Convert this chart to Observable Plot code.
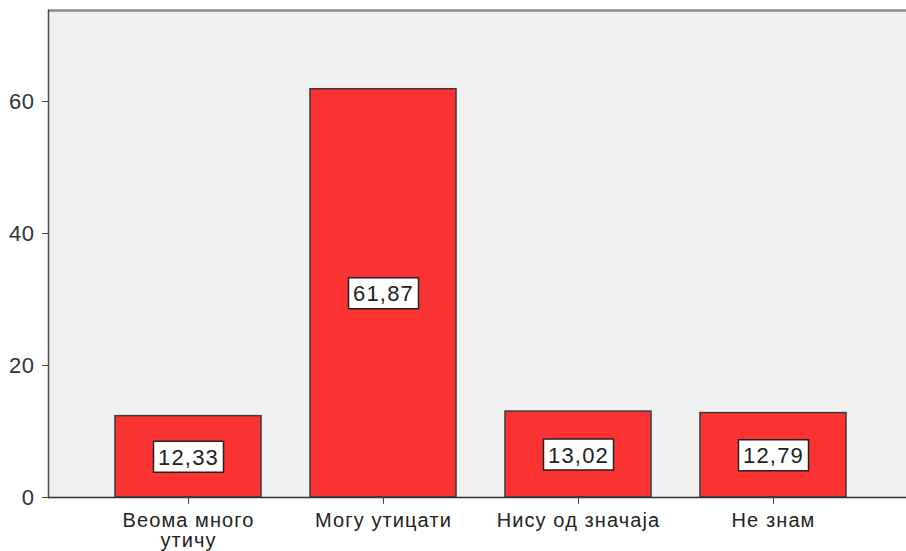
<!DOCTYPE html>
<html><head><meta charset="utf-8">
<script src="https://cdn.jsdelivr.net/npm/d3@7"></script>
<script src="https://cdn.jsdelivr.net/npm/@observablehq/plot@0.6"></script>
<style>
body{margin:0;background:#fff}
g[aria-label="x-axis tick label"] text{letter-spacing:1.1px}
g[aria-label="text"] text{letter-spacing:1.2px}
g[aria-label="y-axis tick label"] text{letter-spacing:0.5px}
</style>
</head><body><div id="chart"></div>
<script>
const categories = ["Веома много утичу", "Могу утицати", "Нису од значаја", "Не знам"];
const tickLabels = ["Веома много\nутичу", "Могу утицати", "Нису од значаја", "Не знам"];
const values = [12.33, 61.87, 13.02, 12.79];
const valueLabels = ["12,33", "61,87", "13,02", "12,79"];
const yTicks = [0, 20, 40, 60];

const data = categories.map((c, i) => ({cat: c, value: values[i], label: valueLabels[i]}));
const yMax = 73.8;
const font = "'Liberation Sans', Arial, sans-serif";

const boxSymbol = {draw(ctx) { ctx.rect(-35, -15.5, 70, 31); }};

const chart = Plot.plot({
  width: 906, height: 551,
  marginLeft: 48, marginRight: 0, marginTop: 10, marginBottom: 54,
  style: {fontFamily: font, background: "#fff", color: "#222"},
  x: {domain: categories, range: [66, 895], padding: 0.25},
  y: {domain: [0, yMax]},
  marks: [
    Plot.frame({fill: "#f0f0f0", stroke: "none"}),
    Plot.ruleY([yMax], {stroke: "#8a8a8a", strokeWidth: 2.5}),
    Plot.barY(data, {x: "cat", y: "value", fill: "#fc3333", stroke: "#3a3a3a", strokeWidth: 1.5}),
    Plot.dot(data, {x: "cat", y: d => d.value / 2, symbol: boxSymbol, fill: "#fff", stroke: "#222", strokeWidth: 1.5, r: 10}),
    Plot.text(data, {x: "cat", y: d => d.value / 2, text: "label", fontSize: 22, fill: "#222", dy: 1}),
    Plot.frame({anchor: "left", stroke: "#4a4a4a", strokeWidth: 1.5}),
    Plot.ruleY([0], {stroke: "#333", strokeWidth: 1.5}),
    Plot.axisY({ticks: yTicks, tickSize: 6, tickPadding: 8, fontSize: 22, label: null, stroke: "#444", fill: "#333"}),
    Plot.axisX({tickSize: 7, tickPadding: 8, fontSize: 20, lineHeight: 1.0, label: null, stroke: "#444", fill: "#222",
      tickFormat: (d) => tickLabels[categories.indexOf(d)]})
  ]
});
document.getElementById("chart").append(chart);
</script>
</body></html>
